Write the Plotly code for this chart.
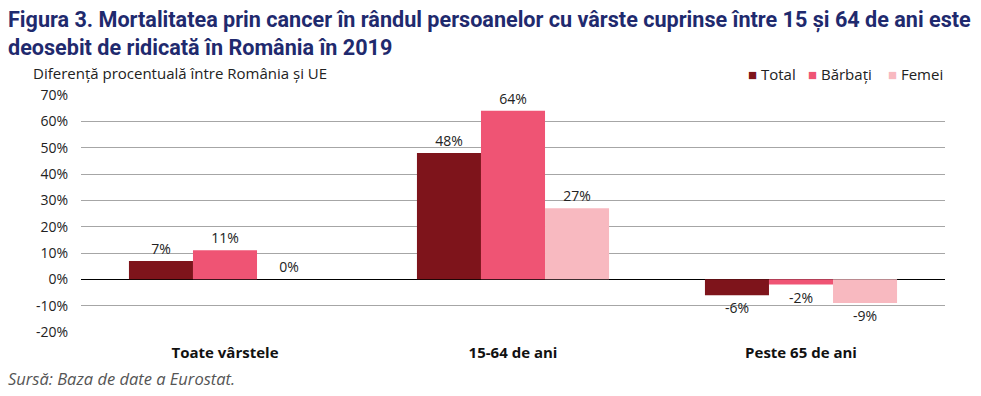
import plotly.graph_objects as go

categories = ["Toate vârstele", "15-64 de ani", "Peste 65 de ani"]
series_names = ["Total", "Bărbați", "Femei"]
total = [7, 48, -6]
barbati = [11, 64, -2]
femei = [0, 27, -9]
tick_vals = [-20, -10, 0, 10, 20, 30, 40, 50, 60, 70]
tick_text = [f"{v}%" for v in tick_vals]

colors = ["#7e141b", "#ef5474", "#f8b9c0"]
font_family = "Open Sans, Noto Sans, sans-serif"

W, H = 981, 396
ML, MR, MT, MB = 81, 36, 95, 64
PW = W - ML - MR

def px_x(p):
    return (p - ML) / PW

fig = go.Figure()
for name, vals, col in zip(series_names, [total, barbati, femei], colors):
    fig.add_trace(go.Bar(
        name=name, x=categories, y=vals, marker=dict(color=col, line=dict(width=0)),
        text=[f"{v}%" for v in vals], textposition="outside",
        textfont=dict(size=14, color="#222222", family=font_family),
        cliponaxis=False, showlegend=False,
    ))

fig.update_layout(
    width=W, height=H,
    margin=dict(l=ML, r=MR, t=MT, b=MB),
    paper_bgcolor="white", plot_bgcolor="white",
    barmode="group", bargap=0.333, bargroupgap=0,
    font=dict(family=font_family, color="#222222"),
    showlegend=False,
    xaxis=dict(tickfont=dict(size=15, color="#111111", family=font_family, weight="bold"),
               showgrid=False, showline=False, ticks="", ticklabelstandoff=10),
    yaxis=dict(range=[-20, 70], tickvals=tick_vals, ticktext=tick_text,
               tickfont=dict(size=14, color="#222222"),
               showgrid=True, gridcolor="#a6a6a6", gridwidth=1.2,
               zeroline=True, zerolinecolor="#000000", zerolinewidth=1.2,
               ticklabelstandoff=12, automargin=False),
)

fig.add_annotation(
    text="Figura 3. Mortalitatea prin cancer în rândul persoanelor cu vârste cuprinse între 15 și 64 de ani este<br>deosebit de ridicată în România în 2019",
    xref="paper", yref="paper", x=px_x(6), y=1.0, yshift=90, xanchor="left", yanchor="top",
    align="left", showarrow=False,
    font=dict(size=21.6, color="#1f2a6e", family="Roboto, sans-serif", weight="bold"),
)
fig.add_annotation(
    text="Diferență procentuală între România și UE",
    xref="paper", yref="paper", x=px_x(31), y=1.0, yshift=MT - 73, xanchor="left", yanchor="middle",
    showarrow=False, font=dict(size=15, color="#222222"),
)

# legend drawn as annotations
leg_x = [746, 806, 886]
for name, col, lx in zip(series_names, colors, leg_x):
    fig.add_annotation(
        text=f'<span style="color:{col}">■</span> {name}',
        xref="paper", yref="paper", x=px_x(lx), y=1.0, yshift=MT - 74,
        xanchor="left", yanchor="middle", showarrow=False,
        font=dict(size=15, color="#222222"),
    )

fig.add_annotation(
    text="<i>Sursă: Baza de date a Eurostat.</i>",
    xref="paper", yref="paper", x=px_x(6), y=0, yshift=-(378 - (H - MB)), xanchor="left", yanchor="middle",
    showarrow=False, font=dict(size=16.5, color="#555555"),
)

fig.write_html("out.html", config={"displayModeBar": False},
               post_script="document.body.style.margin='0';document.body.style.padding='0';")
